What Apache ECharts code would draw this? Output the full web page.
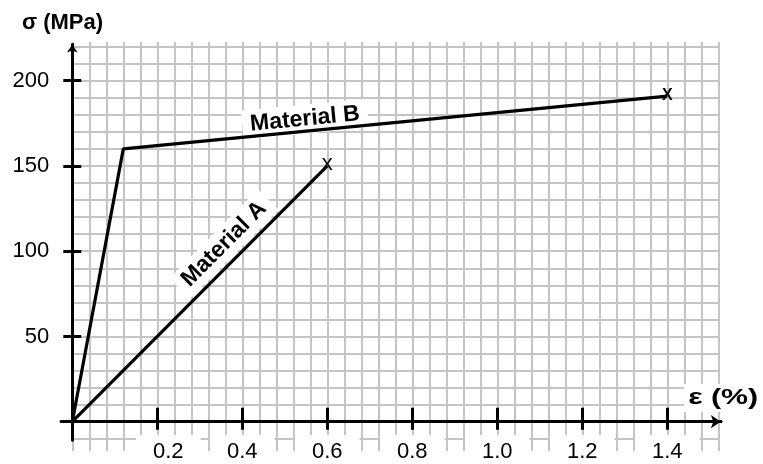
<!DOCTYPE html>
<html><head><meta charset="utf-8">
<script src="https://cdn.jsdelivr.net/npm/echarts@6/dist/echarts.min.js"></script>
<style>html,body{margin:0;padding:0;background:#fff}#c{width:763px;height:464px}</style>
</head><body><div id="c"></div>
<script>
// ---- data ----
const strainA = [0, 0.6];
const stressA = [0, 150];
const strainB = [0, 0.12, 1.4];
const stressB = [0, 160, 191];
const xTicks = [0.2, 0.4, 0.6, 0.8, 1.0, 1.2, 1.4];
const yTicks = [50, 100, 150, 200];
const seriesNames = ['Material A', 'Material B'];
const xTitle = 'ε (%)';
const yTitle = 'σ (MPa)';

// ---- layout (pixels per unit) ----
const OX = 72.3, OY = 421.7, SX = 425, SY = 1.705;
function gridFor(xmin, xmax, ymin, ymax) {
  return { left: OX + xmin * SX, width: (xmax - xmin) * SX, top: OY - ymax * SY, height: (ymax - ymin) * SY, containLabel: false, outerBoundsMode: 'none' };
}
const paperX = [0, 1.52];
const mainR = { xmin: -0.026, xmax: 1.526, ymin: -10.7, ymax: 221.2 };
const FONT = "'Liberation Sans', Arial, sans-serif";
const gridLine = { show: true, lineStyle: { color: '#c4c4c4', width: 2 } };
const hidden = { show: false };

const chart = echarts.init(document.getElementById('c'), null, { renderer: 'canvas' });

function pts(xs, ys, mark, markStyle) {
  return xs.map((x, i) => {
    if (i === xs.length - 1) {
      return { value: [x, ys[i]], symbol: 'circle', symbolSize: 1, itemStyle: { color: 'rgba(0,0,0,0)' },
        label: Object.assign({ show: true, position: 'inside', formatter: mark, color: '#000', fontFamily: FONT }, markStyle) };
    }
    return { value: [x, ys[i]] };
  });
}

const axisLineStyle = { color: '#000', width: 3 };

const option = {
  animation: false,
  backgroundColor: '#fff',
  title: [
    { text: yTitle, left: 20, top: 10, padding: [2, 2], textStyle: { fontFamily: FONT, fontWeight: 'bold', fontSize: 22, color: '#000' } }
  ],
  grid: [
    Object.assign(gridFor(paperX[0], paperX[1], 0, 1), { top: 42, height: 409 }),
    gridFor(paperX[0], paperX[1], -10, 220),
    gridFor(mainR.xmin, mainR.xmax, mainR.ymin, mainR.ymax)
  ],
  xAxis: [
    { type: 'value', gridIndex: 0, min: 0, max: 1.52, interval: 0.04, splitLine: gridLine, axisLine: hidden, axisTick: hidden, axisLabel: hidden, z: 0 },
    { type: 'value', gridIndex: 1, min: 0, max: 1.52, splitLine: hidden, axisLine: hidden, axisTick: hidden, axisLabel: hidden, z: 0 },
    { type: 'value', gridIndex: 2, position: 'bottom', min: mainR.xmin, max: mainR.xmax, z: 5,
      axisLine: { show: true, onZero: true, symbol: ['none', 'arrow'], symbolSize: [10, 10], lineStyle: axisLineStyle },
      axisTick: { show: true, inside: true, length: 14, customValues: xTicks, lineStyle: { color: '#000', width: 3 } },
      axisLabel: hidden, splitLine: hidden },
    { type: 'value', gridIndex: 2, position: 'bottom', min: mainR.xmin, max: mainR.xmax, z: 5,
      axisLine: { show: true, onZero: true, lineStyle: axisLineStyle },
      axisTick: { show: true, inside: false, length: 8, customValues: xTicks, lineStyle: { color: '#000', width: 3 } },
      axisLabel: { show: true, customValues: xTicks, margin: -5,
        formatter: v => (Math.abs(v - xTicks[0]) < 1e-9 ? '{g|}' : '') + '{v|' + v.toFixed(1) + '}',
        rich: {
          g: { width: 22 },
          v: { fontFamily: FONT, fontSize: 22, color: '#000', backgroundColor: '#fff', padding: [6, 17, 6, 17] }
        } },
      splitLine: hidden }
  ],
  yAxis: [
    { type: 'value', gridIndex: 0, min: 0, max: 1, splitLine: hidden, axisLine: hidden, axisTick: hidden, axisLabel: hidden, z: 0 },
    { type: 'value', gridIndex: 1, min: -10, max: 220, interval: 10, splitLine: gridLine, axisLine: hidden, axisTick: hidden, axisLabel: hidden, z: 0 },
    { type: 'value', gridIndex: 2, position: 'left', min: mainR.ymin, max: mainR.ymax, z: 5,
      axisLine: { show: true, onZero: true, symbol: ['none', 'arrow'], symbolSize: [8, 8], lineStyle: axisLineStyle },
      axisTick: { show: true, inside: true, length: 9, customValues: yTicks, lineStyle: { color: '#000', width: 3 } },
      axisLabel: hidden, splitLine: hidden },
    { type: 'value', gridIndex: 2, position: 'left', min: mainR.ymin, max: mainR.ymax, z: 5,
      axisLine: { show: true, onZero: true, lineStyle: axisLineStyle },
      axisTick: { show: true, inside: false, length: 9, customValues: yTicks, lineStyle: { color: '#000', width: 3 } },
      axisLabel: { show: true, customValues: yTicks, margin: 12, fontFamily: FONT, fontSize: 22, color: '#000' },
      splitLine: hidden }
  ],
  series: [
    { name: seriesNames[0], type: 'line', xAxisIndex: 2, yAxisIndex: 2, symbol: 'none', showSymbol: true, z: 3,
      lineStyle: { color: '#000', width: 3.2 }, itemStyle: { color: '#000' },
      data: pts(strainA, stressA, 'x', { fontSize: 22, offset: [0, -2] }) },
    { name: seriesNames[1], type: 'line', xAxisIndex: 2, yAxisIndex: 2, symbol: 'none', showSymbol: true, z: 3,
      lineStyle: { color: '#000', width: 3.2 }, itemStyle: { color: '#000' },
      data: pts(strainB, stressB, 'X', { fontSize: 16, fontWeight: 'bold', offset: [0, 0] }) }
  ]
};
chart.setOption(option);

// ---- rotated series labels along their lines ----
function px(x, y) { return chart.convertToPixel({ gridIndex: 2 }, [x, y]); }
function segAngle(xs, ys, i) {
  const p0 = px(xs[i], ys[i]), p1 = px(xs[i + 1], ys[i + 1]);
  return Math.atan2(-(p1[1] - p0[1]), p1[0] - p0[0]);
}
// anchor: fraction along a segment, then pixel offset perpendicular (above) the line
function anchor(xs, ys, i, t, off) {
  const p0 = px(xs[i], ys[i]), p1 = px(xs[i + 1], ys[i + 1]);
  const a = segAngle(xs, ys, i);
  const cx = p0[0] + (p1[0] - p0[0]) * t, cy = p0[1] + (p1[1] - p0[1]) * t;
  return [cx - Math.sin(a) * off, cy - Math.cos(a) * off, a];
}
const aA = anchor(strainA, stressA, 0, 0.645, 18);
const aB = anchor(strainB, stressB, 1, 0.336, 12);
function lbl(text, a) {
  return { type: 'text', x: a[0], y: a[1], rotation: a[2], z: 2, zlevel: 0,
    style: { text: text, x: 0, y: 0, align: 'center', verticalAlign: 'middle', fill: '#000',
      font: "bold 23px 'Liberation Sans', Arial, sans-serif", backgroundColor: '#fff', padding: [3, 8] } };
}
chart.setOption({ graphic: [
  lbl(seriesNames[0], aA), lbl(seriesNames[1], aB),
  { type: 'text', x: 684, y: 384, scaleX: 1.38, z: 6,
    style: { text: xTitle, x: 0, y: 0, align: 'left', verticalAlign: 'top', fill: '#000',
      font: "bold 22px 'Liberation Sans', Arial, sans-serif", backgroundColor: '#fff', padding: [3, 3] } }
] });
</script></body></html>
